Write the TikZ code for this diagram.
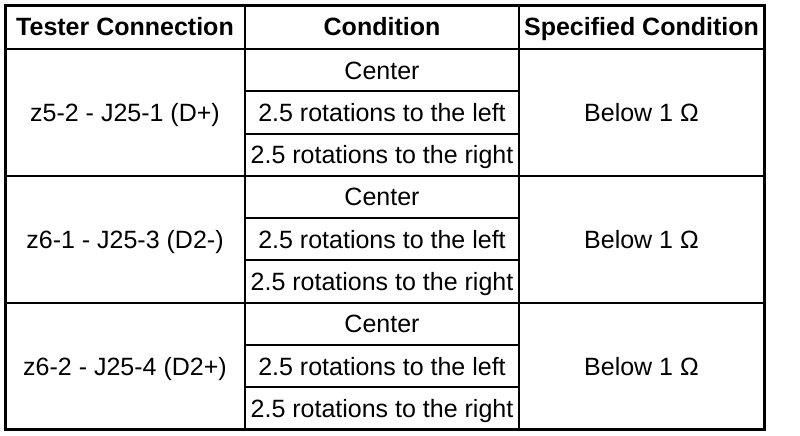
\documentclass[tikz,border=0pt]{standalone}
\usepackage{fontspec}
\setmainfont{Liberation Sans}

\begin{document}
\begin{tikzpicture}[
	x=1pt, y=-1pt,
	cell/.style={anchor=base, inner sep=0pt, font=\fontsize{25}{28}\selectfont},
	head/.style={cell, font=\fontsize{25}{28}\selectfont\bfseries},
	rule/.style={line width=2pt},
	frame/.style={line width=3pt}
]
\useasboundingbox (0,0) rectangle (800,436);
\fill[white] (0,0) rectangle (800,436);

% header
\node[head] (hconn) at (125,36) {Tester Connection};
\node[head] (hcond) at (382,36) {Condition};
\node[head] (hspec) at (641.5,36) {Specified Condition};

% groups of three rows
\foreach \conn [count=\i from 0] in {z5-2 - J25-1 (D+), z6-1 - J25-3 (D2-), z6-2 - J25-4 (D2+)}{
	\pgfmathsetmacro{\top}{49+\i*126.84}
	\node[cell] (conn\i) at (125,\top+63.42+8.9) {\conn};
	\node[cell] (spec\i) at (641.5,\top+63.42+8.9) {Below 1 Ω};
	\node[cell] (cent\i) at (382,\top+21.14+8.9) {Center};
	\node[cell] (left\i) at (382,\top+63.42+8.9) {2.5 rotations to the left};
	\node[cell] (right\i) at (382,\top+105.7+8.9) {2.5 rotations to the right};
	\draw[rule] (244.7,\top+42.28) -- (519,\top+42.28);
	\draw[rule] (244.7,\top+84.56) -- (519,\top+84.56);
}
\foreach \i in {1,2}
	\draw[rule] (5.3,49+\i*126.84) -- (764,49+\i*126.84);

\draw[rule] (5.3,49) -- (764,49);
\draw[rule] (244.7,5.3) -- (244.7,429.5);
\draw[rule] (519,5.3) -- (519,429.5);
\draw[frame] (5.3,5.3) rectangle (764,429.5);
\end{tikzpicture}
\end{document}
